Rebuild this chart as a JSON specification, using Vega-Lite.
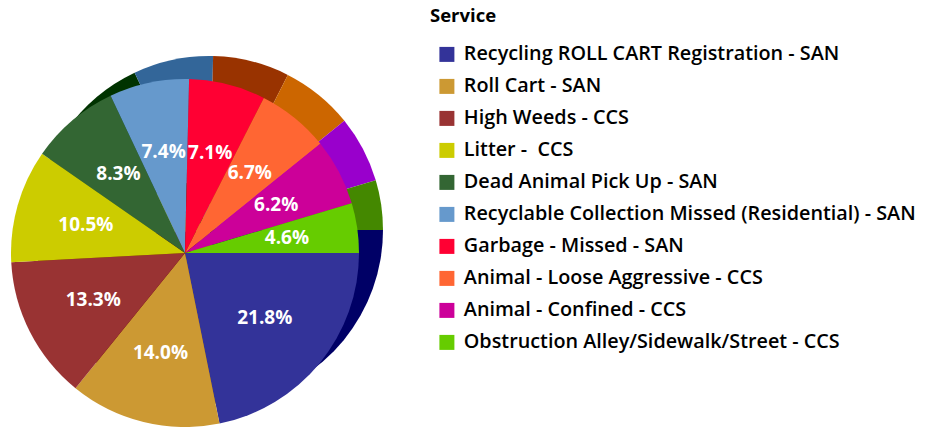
{
  "$schema": "https://vega.github.io/schema/vega-lite/v6.json",
  "width": 370,
  "height": 427,
  "padding": 0,
  "background": "white",
  "config": {"view": {"stroke": null}, "font": "Open Sans"},
  "data": {"values": [
    {"rank": 1, "service": "Recycling ROLL CART Registration - SAN", "share": 0.218},
    {"rank": 2, "service": "Roll Cart - SAN", "share": 0.140},
    {"rank": 3, "service": "High Weeds - CCS", "share": 0.133},
    {"rank": 4, "service": "Litter - \u00a0CCS", "share": 0.105},
    {"rank": 5, "service": "Dead Animal Pick Up - SAN", "share": 0.083},
    {"rank": 6, "service": "Recyclable Collection Missed (Residential) - SAN", "share": 0.074},
    {"rank": 7, "service": "Garbage - Missed - SAN", "share": 0.071},
    {"rank": 8, "service": "Animal - Loose Aggressive - CCS", "share": 0.067},
    {"rank": 9, "service": "Animal - Confined - CCS", "share": 0.062},
    {"rank": 10, "service": "Obstruction Alley/Sidewalk/Street - CCS", "share": 0.046}
  ]},
  "encoding": {
    "theta": {"field": "share", "type": "quantitative", "stack": true, "scale": {"range": [1.5708, 7.854]}},
    "order": {"field": "rank", "type": "quantitative"}
  },
  "layer": [
    {
      "mark": {"type": "arc", "outerRadius": 174, "xOffset": 24, "yOffset": 16.5},
      "encoding": {
        "color": {"field": "service", "type": "nominal", "legend": null,
          "scale": {
            "domain": ["Recycling ROLL CART Registration - SAN", "Roll Cart - SAN", "High Weeds - CCS", "Litter - \u00a0CCS", "Dead Animal Pick Up - SAN", "Recyclable Collection Missed (Residential) - SAN", "Garbage - Missed - SAN", "Animal - Loose Aggressive - CCS", "Animal - Confined - CCS", "Obstruction Alley/Sidewalk/Street - CCS"],
            "range": ["#000066", "#996600", "#660000", "#999900", "#003300", "#336699", "#993300", "#CC6600", "#9900CC", "#448800"]
          }}
      }
    },
    {
      "mark": {"type": "arc", "outerRadius": 174, "yOffset": 39.5},
      "encoding": {
        "color": {"field": "service", "type": "nominal",
          "scale": {
            "domain": ["Recycling ROLL CART Registration - SAN", "Roll Cart - SAN", "High Weeds - CCS", "Litter - \u00a0CCS", "Dead Animal Pick Up - SAN", "Recyclable Collection Missed (Residential) - SAN", "Garbage - Missed - SAN", "Animal - Loose Aggressive - CCS", "Animal - Confined - CCS", "Obstruction Alley/Sidewalk/Street - CCS"],
            "range": ["#333399", "#CC9933", "#993333", "#CCCC00", "#336633", "#6699CC", "#FF0033", "#FF6633", "#CC0099", "#66CC00"]
          },
          "legend": {
            "title": "Service",
            "orient": "none",
            "legendX": 430,
            "legendY": 7,
            "titleFontSize": 18.5,
            "titleFontWeight": "bold",
            "titleColor": "black",
            "titlePadding": 19,
            "labelFontSize": 19.8,
            "labelFontWeight": 600,
            "labelColor": "black",
            "labelLimit": 600,
            "labelOffset": 7,
            "symbolType": "square",
            "symbolSize": 225,
            "symbolStrokeWidth": 0,
            "symbolOpacity": 1,
            "symbolOffset": 7,
            "rowPadding": 11
          }
        }
      }
    },
    {
      "mark": {"type": "text", "radius": 103, "yOffset": 39.5, "fill": "white", "fontWeight": "bold", "fontSize": 19, "align": "center", "baseline": "middle"},
      "encoding": {"text": {"field": "share", "type": "quantitative", "format": ".1%"}}
    }
  ],
  "resolve": {"scale": {"color": "independent"}}
}
